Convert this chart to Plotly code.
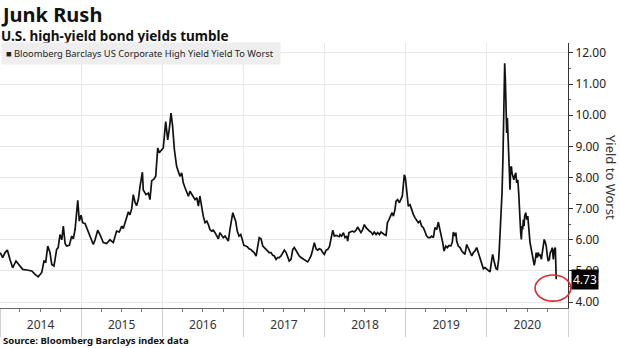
import plotly.graph_objects as go

# ---- data ----
d2014 = ["2014-01-02","2014-01-13","2014-01-24","2014-02-03","2014-02-15","2014-02-27","2014-03-14","2014-04-01",
         "2014-04-13","2014-05-01","2014-05-24","2014-06-08","2014-06-22","2014-07-08","2014-07-18","2014-07-26",
         "2014-08-04","2014-08-14","2014-08-22","2014-09-01","2014-09-13","2014-09-20","2014-09-28","2014-10-06",
         "2014-10-13","2014-10-21","2014-10-28","2014-11-09","2014-11-20","2014-11-27","2014-12-05","2014-12-17",
         "2014-12-24"]
y2014 = [5.59,5.43,5.59,5.67,5.37,5.10,5.32,5.16,5.05,5.03,5.00,4.89,4.81,4.95,5.32,5.29,5.80,5.59,5.21,5.16,
         5.69,5.75,6.17,6.00,6.44,5.88,5.80,5.82,6.12,6.03,6.33,7.27,6.60]

d2015 = ["2015-01-01","2015-01-08","2015-01-19","2015-01-29","2015-02-10","2015-02-25","2015-03-05","2015-03-17",
         "2015-03-27","2015-04-11","2015-04-26","2015-05-11","2015-05-26","2015-06-10","2015-06-22","2015-07-03",
         "2015-07-10","2015-07-22","2015-08-02","2015-08-09","2015-08-17","2015-08-24","2015-09-01","2015-09-08",
         "2015-09-16","2015-09-23","2015-10-04","2015-10-08","2015-10-20","2015-10-31","2015-11-07","2015-11-15",
         "2015-11-25","2015-12-03","2015-12-12","2015-12-19","2015-12-30"]
y2015 = [6.79,6.55,6.52,6.33,6.12,5.85,6.00,6.31,6.17,5.91,5.88,6.00,5.91,6.28,6.25,6.44,6.36,6.65,6.90,6.80,
         7.00,7.45,7.20,7.10,7.30,7.70,8.17,7.60,7.45,7.50,7.29,7.90,7.95,8.04,8.95,8.80,8.90]

d2016 = ["2016-01-06","2016-01-17","2016-01-26","2016-02-02","2016-02-10","2016-02-17","2016-02-25","2016-03-06",
         "2016-03-14","2016-03-21","2016-03-29","2016-04-05","2016-04-13","2016-04-21","2016-04-28","2016-05-05",
         "2016-05-13","2016-05-20","2016-05-28","2016-06-05","2016-06-12","2016-06-19","2016-06-27","2016-07-04",
         "2016-07-12","2016-07-20","2016-07-27","2016-08-03","2016-08-11","2016-08-18","2016-08-26","2016-09-03",
         "2016-09-10","2016-09-17","2016-09-25","2016-10-02","2016-10-10","2016-10-18","2016-10-25","2016-11-01",
         "2016-11-14","2016-11-19","2016-11-27","2016-12-04","2016-12-12","2016-12-20","2016-12-27"]
y2016 = [8.95,9.80,9.21,9.55,10.07,9.65,8.90,8.36,8.20,8.04,8.15,7.83,7.67,7.51,7.40,7.56,7.45,7.40,7.29,7.35,
         7.08,7.40,7.03,6.76,6.55,6.60,6.49,6.33,6.28,6.31,6.23,6.12,6.03,6.23,6.12,6.07,6.12,6.01,5.96,6.33,
         6.87,6.76,6.60,6.28,6.12,6.17,6.03]

d2017 = ["2017-01-03","2017-01-11","2017-01-18","2017-01-26","2017-02-03","2017-02-10","2017-02-18","2017-02-27",
         "2017-03-06","2017-03-13","2017-03-21","2017-03-29","2017-04-05","2017-04-13","2017-04-20","2017-04-27",
         "2017-05-05","2017-05-13","2017-05-20","2017-05-28","2017-06-04","2017-06-11","2017-06-19","2017-06-27",
         "2017-07-04","2017-07-12","2017-07-19","2017-07-26","2017-08-03","2017-08-11","2017-08-18","2017-08-26",
         "2017-09-02","2017-09-09","2017-09-17","2017-09-25","2017-10-02","2017-10-10","2017-10-17","2017-10-24",
         "2017-11-01","2017-11-09","2017-11-16","2017-11-24","2017-12-01","2017-12-08","2017-12-16","2017-12-24",
         "2017-12-31"]
y2017 = [5.82,5.80,5.78,5.71,5.69,5.64,5.59,5.48,5.80,6.07,6.03,5.80,5.75,5.69,5.61,5.59,5.59,5.50,5.48,5.37,
         5.43,5.43,5.48,5.59,5.67,5.59,5.43,5.32,5.37,5.69,5.75,5.64,5.53,5.48,5.43,5.39,5.37,5.32,5.29,5.37,
         5.48,5.69,5.91,5.71,5.67,5.71,5.69,5.59,5.53]

d2018 = ["2018-01-08","2018-01-15","2018-01-23","2018-01-30","2018-02-07","2018-02-14","2018-02-22","2018-03-01",
         "2018-03-09","2018-03-12","2018-03-19","2018-03-27","2018-04-03","2018-04-11","2018-04-15","2018-04-21",
         "2018-04-29","2018-05-06","2018-05-14","2018-05-23","2018-05-30","2018-06-07","2018-06-14","2018-06-22",
         "2018-06-29","2018-07-07","2018-07-14","2018-07-22","2018-07-29","2018-08-06","2018-08-13","2018-08-21",
         "2018-08-28","2018-09-05","2018-09-12","2018-09-20","2018-09-27","2018-10-05","2018-10-11","2018-10-18",
         "2018-10-26","2018-11-01","2018-11-07","2018-11-14","2018-11-19","2018-11-26","2018-12-04","2018-12-11",
         "2018-12-17","2018-12-22","2018-12-26","2018-12-31"]
y2018 = [5.67,5.69,5.78,6.01,6.31,6.12,6.14,6.12,6.10,6.17,6.12,6.23,6.07,6.12,5.96,6.23,6.25,6.28,6.25,6.31,
         6.41,6.33,6.23,6.33,6.49,6.39,6.33,6.28,6.25,6.17,6.25,6.17,6.23,6.17,6.25,6.20,6.17,6.14,6.55,6.65,
         6.76,6.87,6.76,6.97,7.24,7.29,7.19,7.31,7.40,7.77,8.09,7.99]

d2019 = ["2019-01-04","2019-01-09","2019-01-13","2019-01-21","2019-01-28","2019-02-05","2019-02-12","2019-02-20",
         "2019-02-27","2019-03-07","2019-03-14","2019-03-22","2019-03-29","2019-04-06","2019-04-13","2019-04-21",
         "2019-04-28","2019-05-06","2019-05-13","2019-05-21","2019-05-28","2019-06-05","2019-06-13","2019-06-17",
         "2019-06-23","2019-07-01","2019-07-08","2019-07-15","2019-07-23","2019-07-30","2019-08-04","2019-08-10",
         "2019-08-15","2019-08-19","2019-08-26","2019-09-03","2019-09-11","2019-09-18","2019-09-25","2019-10-03",
         "2019-10-10","2019-10-18","2019-10-26","2019-11-02","2019-11-09","2019-11-17","2019-11-24","2019-12-02",
         "2019-12-10","2019-12-17","2019-12-24"]
y2019 = [7.61,7.19,7.08,7.13,6.97,6.81,6.71,6.60,6.55,6.60,6.44,6.39,6.28,6.12,6.07,6.07,6.12,6.07,6.39,6.33,
         6.57,6.33,6.12,5.91,5.64,5.80,5.75,5.82,5.80,5.91,6.25,6.12,6.23,5.96,5.80,5.75,5.64,5.59,5.53,5.85,
         5.75,5.59,5.48,5.59,5.64,5.75,5.59,5.37,5.24,5.07,5.11]

d2020 = ["2020-01-01","2020-01-08","2020-01-16","2020-01-24","2020-01-28","2020-02-03","2020-02-12","2020-02-18",
         "2020-02-24","2020-02-27","2020-03-01","2020-03-06","2020-03-10","2020-03-14","2020-03-18","2020-03-22",
         "2020-03-25","2020-03-28","2020-03-31","2020-04-03","2020-04-06","2020-04-09","2020-04-12","2020-04-15",
         "2020-04-18","2020-04-21","2020-04-24","2020-04-27","2020-05-02","2020-05-06","2020-05-11","2020-05-15",
         "2020-05-20","2020-05-24","2020-05-27","2020-05-30","2020-06-02","2020-06-05","2020-06-08","2020-06-11",
         "2020-06-14","2020-06-17","2020-06-20","2020-06-25","2020-06-29","2020-07-04","2020-07-08","2020-07-11",
         "2020-07-14","2020-07-17","2020-07-22","2020-07-26","2020-07-29","2020-08-02","2020-08-07","2020-08-11",
         "2020-08-16","2020-08-20","2020-08-25","2020-08-29","2020-09-03","2020-09-07","2020-09-12","2020-09-16",
         "2020-09-21","2020-09-25","2020-09-30","2020-10-04","2020-10-09","2020-10-13","2020-10-18","2020-10-22",
         "2020-10-27","2020-10-31","2020-11-05","2020-11-09"]
y2020 = [5.05,5.00,4.97,5.37,5.53,5.32,5.07,5.05,5.37,5.75,6.17,6.76,7.51,8.57,10.82,11.67,11.13,10.28,9.43,9.91,
         9.43,8.89,8.15,7.61,8.31,8.36,8.15,8.09,7.93,8.04,8.15,7.83,7.93,7.51,6.97,6.65,6.23,6.01,6.44,6.33,
         6.65,6.44,6.76,6.87,6.65,6.76,6.33,6.01,5.91,5.80,5.59,5.37,5.24,5.18,5.37,5.59,5.43,5.59,5.48,5.53,
         5.37,5.59,5.80,6.01,5.91,5.80,5.48,5.32,5.37,5.59,5.64,5.75,5.37,5.69,5.75,4.73]

dates = d2014 + d2015 + d2016 + d2017 + d2018 + d2019 + d2020
yields = y2014 + y2015 + y2016 + y2017 + y2018 + y2019 + y2020

series_name = "Bloomberg Barclays US Corporate High Yield Yield To Worst"
title = "Junk Rush"
subtitle = "U.S. high-yield bond yields tumble"
source = "Source: Bloomberg Barclays index data"
y_title = "Yield to Worst"
last_label = "4.73"
last_value = 4.73

FONT = "Noto Sans"

fig = go.Figure()
fig.add_trace(go.Scatter(x=dates, y=yields, mode="lines", name=series_name,
                         line=dict(color="#111111", width=1.7), showlegend=False))

fig.update_layout(
    width=620, height=348,
    margin=dict(l=0, r=52, t=43, b=40),
    paper_bgcolor="white", plot_bgcolor="white",
    font=dict(family=FONT, color="#222222", size=12),
    xaxis=dict(
        type="date", range=["2014-01-01", "2021-01-01"],
        tick0="2014-01-01", dtick="M12", tickformat="%Y", ticklabelmode="period",
        ticks="outside", ticklen=28, tickcolor="#cfcfcf", tickwidth=1,
        ticklabelstandoff=-22,
        tickfont=dict(size=12, color="#333333"),
        showgrid=True, gridcolor="#e8e8e8", gridwidth=1,
        showline=True, linecolor="#666666", linewidth=1,
        minor=dict(dtick="M3", ticks="outside", ticklen=3, tickcolor="#777777", showgrid=False),
        zeroline=False, fixedrange=True,
    ),
    yaxis=dict(
        side="right", range=[3.81, 12.32], tick0=0, dtick=1, tickformat=".2f",
        ticks="outside", ticklen=4, tickcolor="#333333",
        tickfont=dict(size=12, color="#222222"),
        showgrid=True, gridcolor="#e8e8e8", gridwidth=1,
        showline=True, linecolor="#333333", linewidth=1,
        minor=dict(dtick=0.5, ticks="outside", ticklen=2, tickcolor="#555555", showgrid=False),
        zeroline=False,
    ),
)

annotations = [
    dict(text="<b>" + title + "</b>", xref="paper", yref="paper", x=0, y=308 / 265,
         xanchor="left", yanchor="top", showarrow=False, borderpad=0,
         font=dict(size=20, color="#111111", family=FONT)),
    dict(text="<b>" + subtitle + "</b>", xref="paper", yref="paper", x=0, y=(308 - 26) / 265,
         xanchor="left", yanchor="top", showarrow=False, borderpad=0,
         font=dict(size=13.5, color="#111111", family=FONT)),
    dict(text="■ " + series_name + " ", xref="paper", yref="paper", x=0.002, y=(308 - 53.5) / 265,
         xanchor="left", yanchor="middle", showarrow=False, bgcolor="#eeeeee", borderpad=4,
         font=dict(size=9.3, color="#222222", family=FONT)),
    dict(text="<b>" + source + "</b>", xref="paper", yref="paper", x=0.004, y=(308 - 348) / 265,
         xanchor="left", yanchor="bottom", showarrow=False, borderpad=0,
         font=dict(size=9.6, color="#111111", family=FONT)),
    dict(text=y_title, xref="paper", yref="paper", x=1.076, y=0.494, textangle=90,
         xanchor="center", yanchor="middle", showarrow=False, font=dict(size=13, color="#333333", family=FONT)),
    dict(text=last_label, xref="paper", yref="y", x=1.005, y=last_value,
         xanchor="left", yanchor="middle", showarrow=False, bgcolor="#000000", borderpad=1,
         font=dict(size=12, color="#ffffff", family=FONT)),
]
fig.update_layout(annotations=annotations)

fig.add_shape(type="circle", xref="paper", yref="paper",
              x0=0.942, x1=1.005, y0=0.026, y1=0.1245,
              line=dict(color="#e0282e", width=1.6))

fig.write_html("out.html")
